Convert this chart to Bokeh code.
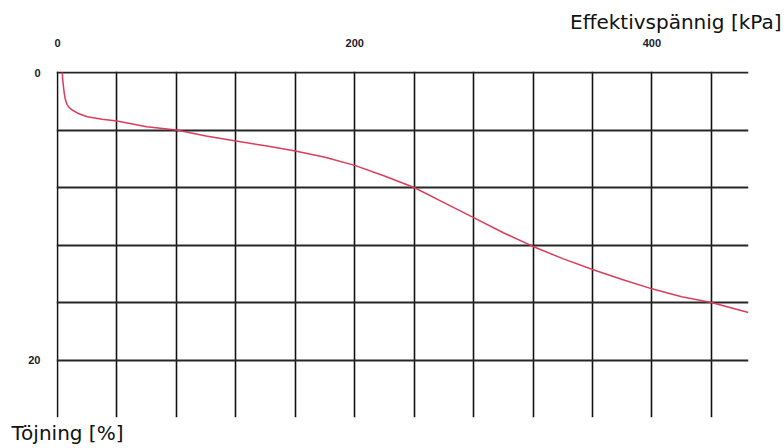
from bokeh.plotting import figure
from bokeh.models import Range1d, FixedTicker, Title, ColumnDataSource
from bokeh.embed import file_html
from bokeh.resources import INLINE

# Oedometer curve: effective stress [kPa] vs. strain [%]
stress_kpa = [3.2, 3.4, 3.7, 4.0, 4.6, 5.3, 6.5, 8.0, 10, 14, 20, 30, 40, 60, 80,
              100, 120, 140, 160, 180, 200, 220, 240, 260, 280, 300, 320, 340,
              360, 380, 400, 420, 440, 465]
strain_pct = [0.0, 0.4, 0.7, 1.0, 1.5, 1.9, 2.25, 2.45, 2.62, 2.85, 3.08, 3.25, 3.38,
              3.78, 4.0, 4.42, 4.76, 5.1, 5.46, 5.9, 6.46, 7.2, 8.0, 9.05, 10.1,
              11.15, 12.1, 12.95, 13.7, 14.4, 15.05, 15.6, 16.0, 16.7]

x_ticks = [0, 200, 400]
y_ticks = [0, 20]
x_grid = list(range(0, 441, 40))
y_grid = list(range(0, 21, 4))

LEFT, RIGHT, TOP, BOTTOM = 56, 36, 71, 31
W, H = 784, 448

# ranges padded by ~1px so the grid lines at 0 are drawn on the frame edge
p = figure(width=W, height=H, output_backend="svg", toolbar_location=None,
           x_range=Range1d(-0.7, 465), y_range=Range1d(24, -0.07),
           x_axis_location="above",
           title="Effektivspännig [kPa]", title_location="above",
           min_border_left=LEFT, min_border_right=RIGHT,
           min_border_top=TOP, min_border_bottom=BOTTOM)
p.outline_line_color = None
p.background_fill_color = "white"
p.border_fill_color = "white"

# grid
p.xgrid.ticker = FixedTicker(ticks=x_grid)
p.ygrid.ticker = FixedTicker(ticks=y_grid)
p.xgrid.grid_line_color = "#111111"
p.xgrid.grid_line_width = 1.6
p.ygrid.grid_line_color = "#262626"
p.ygrid.grid_line_width = 2.2

# axes: labels only
for ax, ticks, standoff in ((p.xaxis[0], x_ticks, 19), (p.yaxis[0], y_ticks, 10)):
    ax.ticker = FixedTicker(ticks=ticks)
    ax.axis_line_color = None
    ax.major_tick_line_color = None
    ax.minor_tick_line_color = None
    ax.major_label_standoff = standoff
    ax.major_label_text_font = "Liberation Sans"
    ax.major_label_text_font_style = "bold"
    ax.major_label_text_font_size = "11px"
    ax.major_label_text_color = "#1a1a2a"

src = ColumnDataSource(dict(x=stress_kpa, y=strain_pct))
p.line("x", "y", source=src, line_color="#dc3c5a", line_width=1.5)

# axis titles
p.title.align = "right"
p.title.offset = -(781 - (W - RIGHT))
p.title.text_font = "DejaVu Sans"
p.title.text_font_size = "20px"
p.title.text_font_style = "normal"
p.title.text_color = "#111111"
p.title.standoff = 4

ylab = Title(text="Töjning [%]", align="left", offset=11 - LEFT,
             text_font="DejaVu Sans", text_font_size="20px",
             text_font_style="normal", text_color="#111111", standoff=2)
p.add_layout(ylab, "below")

open("out.html", "w").write(file_html(p, INLINE))
